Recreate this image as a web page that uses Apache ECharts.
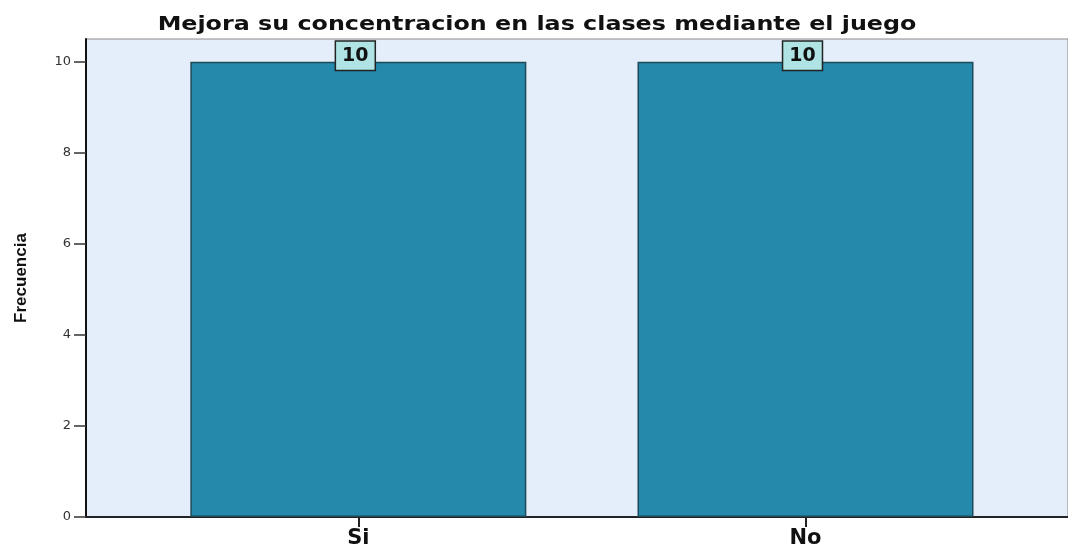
<!DOCTYPE html>
<html>
<head>
<meta charset="utf-8">
<script src="https://cdn.jsdelivr.net/npm/echarts@6/dist/echarts.min.js"></script>
<style>
  html, body { margin: 0; padding: 0; background: #fff; }
  #grafico { width: 1068px; height: 551px; }
</style>
</head>
<body>
<div id="grafico"></div>
<script>
// datos del grafico
const titulo = "Mejora su concentracion en las clases mediante el juego";
const categorias = ["Si", "No"];
const frecuencias = [10, 10];
const ticksY = [0, 2, 4, 6, 8, 10];

const chartDom = document.getElementById("grafico");
const myChart = echarts.init(chartDom);

const option = {
  animation: false,
  // titulo como texto ensanchado (el original es una fuente estirada)
  graphic: [{
    type: "text",
    x: 537,
    y: 25,
    scaleX: 1.19,
    style: {
      text: titulo,
      fill: "#111",
      font: "bold 20px 'DejaVu Sans', Verdana, sans-serif",
      align: "center",
      verticalAlign: "middle"
    }
  }],
  grid: {
    left: 86, top: 39, right: -2, bottom: 34,
    show: true,
    backgroundColor: "#e3eefa",
    borderColor: "#8a8a8a",
    borderWidth: 1
  },
  xAxis: {
    type: "value",
    min: -0.609,
    max: 1.587,
    splitLine: { show: false },
    axisLine: { show: true, onZero: false, lineStyle: { color: "#222", width: 2 } },
    axisTick: { show: true, customValues: [0, 1], length: 10, lineStyle: { color: "#222", width: 2 } },
    axisLabel: {
      customValues: [0, 1],
      formatter: v => categorias[Math.round(v)] || "",
      fontFamily: "DejaVu Sans, Verdana, sans-serif",
      fontSize: 21, fontWeight: "bold", color: "#111", margin: 11
    }
  },
  yAxis: {
    type: "value",
    min: 0,
    max: 10.5,
    name: "Frecuencia",
    nameLocation: "middle",
    nameGap: 56,
    nameTextStyle: { fontFamily: "Liberation Sans Narrow, Liberation Sans, Arial, sans-serif", fontSize: 17, fontWeight: "bold", color: "#111" },
    splitLine: { show: false },
    axisLine: { show: true, onZero: false, lineStyle: { color: "#111", width: 2 } },
    axisTick: { show: true, customValues: ticksY, length: 12, lineStyle: { color: "#333", width: 1.5 } },
    axisLabel: {
      customValues: ticksY,
      fontFamily: "DejaVu Sans, Verdana, sans-serif",
      fontSize: 13, color: "#333", margin: 15
    }
  },
  series: [{
    type: "bar",
    data: frecuencias.map((v, i) => [i, v]),
    barWidth: 336,
    itemStyle: { color: "#2589ab", borderColor: "#1e4a58", borderWidth: 1.5 },
    label: {
      show: true,
      position: "top",
      distance: -8,
      offset: [-3, 0],
      formatter: p => String(p.value[1]),
      fontFamily: "DejaVu Sans, Verdana, sans-serif",
      fontSize: 19, fontWeight: "bold", color: "#111",
      backgroundColor: "#b0e4e4",
      borderColor: "#222", borderWidth: 1.5,
      padding: [5, 6, 4, 6]
    }
  }]
};

myChart.setOption(option);
</script>
</body>
</html>
